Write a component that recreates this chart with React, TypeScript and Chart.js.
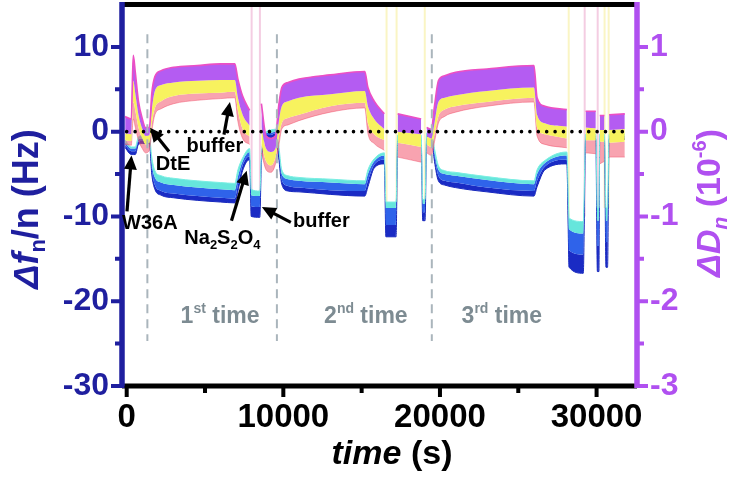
import React, { useEffect, useRef } from 'react';
import { Chart, registerables } from 'chart.js';
Chart.register(...registerables);

const FONT = "'Liberation Sans', Arial, Helvetica, sans-serif";

// time (s)
const T = [-100, 300, 350, 420, 550, 750, 1000, 1200, 1450, 1600, 1800, 2200, 3000, 4500, 6000, 6900, 7100, 7400, 7850, 7950, 8500, 8600, 8900, 9200, 9500, 9700, 9900, 10300, 11000, 13000, 15200, 15400, 15800, 16450, 16550, 17200, 17300, 18800, 18900, 19050, 19150, 19450, 19650, 19900, 20300, 21000, 23000, 26000, 26200, 26700, 28100, 28250, 29150, 29300, 29950, 30050, 30150, 30200, 30500, 30600, 30700, 30800, 31800];

// Δf/n (Hz): overtone envelope (top cyan -> bottom dark blue)
const F_TOP = [-1.0, -1.8, -1.8, -1.8, -1.8, -0.6, -0.5, -0.5, -0.5, -3.0, -4.6, -5.2, -5.5, -5.8, -6.0, -6.1, -4.5, -3.1, -2.0, -6.8, -7.0, -2.8, 0.0, 0.2, 0.3, -1.5, -4.5, -5.2, -5.4, -5.6, -5.8, -4.5, -3.2, -2.5, -8.3, -8.3, -0.4, -0.4, -8.0, -8.0, -0.2, 0.1, -2.0, -4.0, -4.6, -4.8, -5.3, -5.8, -4.5, -3.4, -2.4, -10.2, -10.6, -0.3, -0.3, -9.0, -9.0, -0.3, -0.3, -9.0, -9.0, -0.3, -0.3];
const F_CYAN = [-1.3, -2.0, -2.0, -2.0, -2.0, -0.9, -0.8, -0.8, -0.8, -3.8, -5.4, -6.0, -6.3, -6.6, -6.8, -6.9, -5.3, -3.5, -2.4, -7.5, -7.6, -3.0, -0.2, -0.1, 0.0, -2.0, -5.0, -5.6, -5.8, -6.0, -6.2, -5.0, -3.5, -2.8, -9.0, -9.0, -0.6, -0.6, -8.5, -8.5, -0.4, -0.1, -2.5, -4.5, -5.0, -5.2, -5.7, -6.2, -5.0, -3.7, -2.8, -11.5, -12.0, -0.5, -0.5, -10.5, -10.5, -0.5, -0.5, -10.5, -10.5, -0.5, -0.5];
const F_MID = [-1.6, -2.3, -2.3, -2.3, -2.3, -1.2, -1.1, -1.1, -1.1, -4.5, -6.3, -7.0, -7.3, -7.6, -7.8, -7.9, -6.3, -4.0, -2.9, -8.8, -8.9, -3.3, -0.4, -0.4, -0.2, -2.5, -5.7, -6.4, -6.6, -6.9, -7.0, -5.8, -3.9, -3.3, -11.0, -11.0, -0.8, -0.8, -9.5, -9.5, -0.6, -0.3, -3.0, -5.2, -5.8, -6.0, -6.6, -7.0, -5.8, -4.1, -3.3, -14.0, -14.5, -0.7, -0.7, -13.5, -13.5, -0.7, -0.7, -13.0, -13.0, -0.7, -0.7];
const F_BOT = [-1.9, -2.7, -2.7, -2.7, -2.7, -1.5, -1.4, -1.4, -1.4, -5.0, -6.8, -7.5, -7.8, -8.1, -8.3, -8.4, -7.0, -4.6, -3.3, -10.0, -10.1, -3.6, -0.7, -0.7, -0.5, -3.0, -6.2, -7.0, -7.1, -7.4, -7.6, -6.5, -4.3, -3.8, -12.4, -12.4, -1.0, -1.0, -10.5, -10.5, -0.8, -0.5, -3.5, -5.8, -6.3, -6.6, -7.1, -7.6, -6.5, -4.5, -3.8, -16.0, -16.7, -0.9, -0.9, -16.5, -16.5, -0.9, -0.9, -16.0, -16.0, -0.9, -0.9];

// ΔD (10^-6): overtone envelope (top purple -> bottom red)
const D_TOP = [0.18, 0.15, 0.5, 0.9, 0.7, 0.36, 0.15, 0.05, 0.05, 0.45, 0.65, 0.72, 0.76, 0.78, 0.8, 0.8, 0.62, 0.42, 0.25, null, null, 0.33, -0.05, -0.08, -0.05, 0.3, 0.52, 0.58, 0.62, 0.67, 0.71, 0.52, 0.36, 0.21, null, null, 0.21, 0.15, null, null, 0.05, 0.03, 0.3, 0.6, 0.66, 0.7, 0.74, 0.78, 0.4, 0.3, 0.26, null, null, 0.24, 0.24, null, null, 0.19, 0.19, null, null, 0.2, 0.21];
const D_PURPLE = [-0.02, -0.03, 0.3, 0.6, 0.45, 0.2, 0.03, -0.05, -0.04, 0.25, 0.48, 0.55, 0.58, 0.6, 0.61, 0.61, 0.4, 0.2, 0.07, null, null, 0.05, -0.2, -0.24, -0.2, 0.1, 0.3, 0.36, 0.4, 0.44, 0.48, 0.3, 0.15, 0.03, null, null, 0.0, -0.03, null, null, -0.05, -0.08, 0.1, 0.35, 0.4, 0.43, 0.48, 0.52, 0.2, 0.1, 0.06, null, null, 0.05, 0.04, null, null, 0.02, 0.02, null, null, 0.02, 0.03];
const D_YELLOW = [-0.1, -0.11, 0.1, 0.35, 0.25, 0.05, -0.08, -0.15, -0.13, 0.1, 0.28, 0.36, 0.42, 0.45, 0.46, 0.47, 0.25, 0.03, -0.06, null, null, -0.15, -0.35, -0.4, -0.3, -0.08, 0.1, 0.16, 0.2, 0.3, 0.34, 0.1, -0.03, -0.1, null, null, -0.13, -0.18, null, null, -0.15, -0.18, -0.03, 0.18, 0.26, 0.3, 0.35, 0.4, 0.05, -0.03, -0.08, null, null, -0.1, -0.1, null, null, -0.12, -0.12, null, null, -0.13, -0.12];
const D_BOT = [-0.15, -0.16, 0.0, 0.15, 0.05, -0.1, -0.2, -0.25, -0.22, 0.0, 0.2, 0.27, 0.33, 0.37, 0.39, 0.4, 0.12, -0.08, -0.15, null, null, -0.25, -0.45, -0.48, -0.38, -0.18, 0.03, 0.08, 0.13, 0.23, 0.28, -0.02, -0.14, -0.22, null, null, -0.3, -0.36, null, null, -0.25, -0.28, -0.12, 0.1, 0.18, 0.23, 0.3, 0.35, -0.05, -0.15, -0.19, null, null, -0.25, -0.26, null, null, -0.38, -0.35, null, null, -0.3, -0.3];

// flow-switch spikes (time, lowest Δf value)
const SPIKE_PINK_T = [7975, 8505, 29240, 30070];
const SPIKE_PINK_LOW = [-7, -7, -10, -9];
const SPIKE_YELLOW_T = [16590, 17230, 19030, 28220, 30510, 30770];
const SPIKE_YELLOW_LOW = [-8.3, -8.3, -8, -10, -9, -9];

// injection markers
const STEP_T = [1320, 9590, 19480];
const STEP_Y = [11.5, -24.7];

const X_TICKS = [0, 10000, 20000, 30000];
const X_MINOR = [5000, 15000, 25000];
const Y_TICKS = [-30, -20, -10, 0, 10];
const Y_MINOR = [-25, -15, -5, 5];
const D_TICKS = [-3, -2, -1, 0, 1];
const D_MINOR = [-2.5, -1.5, -0.5, 0.5];

const X_MIN = -300;
const X_MAX = 32580;

const NOTES = [
  { text: 'W36A', x: 1480, y: -10.8 },
  { text: 'DtE', x: 2960, y: -3.9 },
  { text: 'buffer', x: 5630, y: -1.8 },
  { text: 'buffer', x: 12430, y: -10.6 },
];
const ARROWS = [
  [20, -9.4, 306, -2.8],
  [2700, -2.35, 1490, 0.47],
  [6210, -0.35, 6590, 3.5],
  [6690, -10.5, 7660, -4.6],
  [10480, -10.7, 8630, -8.9],
];
const RUNS = [
  { n: '1', sup: 'st', x: 5960 },
  { n: '2', sup: 'nd', x: 15270 },
  { n: '3', sup: 'rd', x: 23950 },
];
const RUN_Y = -22.6;

const BLUE_AX = '#1f1f9f';
const PURPLE_AX = '#b050f0';

const pts = (vals: (number | null)[]) => T.map((t, i) => ({ x: t, y: vals[i] }));

const spikePts = (ts: number[], lows: number[]) => {
  const out: any[] = [];
  ts.forEach((t, i) => {
    out.push({ x: t, y: lows[i] }, { x: t, y: 15 }, { x: t, y: null });
  });
  return out;
};

const stepPts = () => {
  const out: any[] = [];
  STEP_T.forEach((t) => {
    out.push({ x: t, y: STEP_Y[0] }, { x: t, y: STEP_Y[1] }, { x: t, y: null });
  });
  return out;
};

type Part = { t: string; size: number; style: string; dy?: number };

function rich(ctx: CanvasRenderingContext2D, parts: Part[], x: number, y: number, angle = 0, color = '#000') {
  ctx.save();
  ctx.translate(x, y);
  ctx.rotate(angle);
  ctx.fillStyle = color;
  ctx.textAlign = 'left';
  ctx.textBaseline = 'alphabetic';
  const widths = parts.map((p) => {
    ctx.font = `${p.style} ${p.size}px ${FONT}`;
    return ctx.measureText(p.t).width;
  });
  const total = widths.reduce((a, b) => a + b, 0);
  let cx = -total / 2;
  parts.forEach((p, i) => {
    ctx.font = `${p.style} ${p.size}px ${FONT}`;
    ctx.fillText(p.t, cx, p.dy || 0);
    cx += widths[i];
  });
  ctx.restore();
}

function arrow(ctx: CanvasRenderingContext2D, x1: number, y1: number, x2: number, y2: number) {
  const a = Math.atan2(y2 - y1, x2 - x1);
  const hl = 14;
  const hw = 6.5;
  const c = Math.cos(a);
  const s = Math.sin(a);
  ctx.save();
  ctx.strokeStyle = '#000';
  ctx.fillStyle = '#000';
  ctx.lineWidth = 3.2;
  ctx.beginPath();
  ctx.moveTo(x1, y1);
  ctx.lineTo(x2 - hl * 0.8 * c, y2 - hl * 0.8 * s);
  ctx.stroke();
  ctx.beginPath();
  ctx.moveTo(x2, y2);
  ctx.lineTo(x2 - hl * c + hw * s, y2 - hl * s - hw * c);
  ctx.lineTo(x2 - hl * c - hw * s, y2 - hl * s + hw * c);
  ctx.closePath();
  ctx.fill();
  ctx.restore();
}

const decorPlugin = {
  id: 'decor',
  afterDraw(chart: any) {
    const ctx: CanvasRenderingContext2D = chart.ctx;
    const xs = chart.scales.x;
    const ys = chart.scales.y;
    const ds = chart.scales.yD;
    const A = chart.chartArea;
    ctx.save();
    ctx.lineCap = 'butt';
    // frame
    ctx.lineWidth = 5;
    ctx.strokeStyle = '#000';
    ctx.beginPath();
    ctx.moveTo(A.left, A.top);
    ctx.lineTo(A.right, A.top);
    ctx.moveTo(A.left, A.bottom);
    ctx.lineTo(A.right, A.bottom);
    ctx.stroke();
    ctx.lineWidth = 5.5;
    ctx.strokeStyle = BLUE_AX;
    ctx.beginPath();
    ctx.moveTo(A.left, A.top - 2.5);
    ctx.lineTo(A.left, A.bottom + 2);
    ctx.stroke();
    ctx.strokeStyle = PURPLE_AX;
    ctx.beginPath();
    ctx.moveTo(A.right, A.top - 2.5);
    ctx.lineTo(A.right, A.bottom + 2);
    ctx.stroke();
    // ticks
    ctx.lineWidth = 4;
    ctx.strokeStyle = '#000';
    ctx.beginPath();
    X_TICKS.forEach((v) => { const p = xs.getPixelForValue(v); ctx.moveTo(p, A.bottom); ctx.lineTo(p, A.bottom + 11); });
    X_MINOR.forEach((v) => { const p = xs.getPixelForValue(v); ctx.moveTo(p, A.bottom); ctx.lineTo(p, A.bottom + 7); });
    ctx.stroke();
    ctx.strokeStyle = BLUE_AX;
    ctx.beginPath();
    Y_TICKS.forEach((v) => { const p = ys.getPixelForValue(v); ctx.moveTo(A.left, p); ctx.lineTo(A.left - 11, p); });
    Y_MINOR.forEach((v) => { const p = ys.getPixelForValue(v); ctx.moveTo(A.left, p); ctx.lineTo(A.left - 7, p); });
    ctx.stroke();
    ctx.strokeStyle = PURPLE_AX;
    ctx.beginPath();
    D_TICKS.forEach((v) => { const p = ds.getPixelForValue(v); ctx.moveTo(A.right, p); ctx.lineTo(A.right + 11, p); });
    D_MINOR.forEach((v) => { const p = ds.getPixelForValue(v); ctx.moveTo(A.right, p); ctx.lineTo(A.right + 7, p); });
    ctx.stroke();

    // axis titles
    rich(ctx, [
      { t: 'Δf', size: 36, style: 'italic bold' },
      { t: 'n', size: 22, style: 'bold', dy: 7 },
      { t: '/n (Hz)', size: 36, style: 'bold' },
    ], 38, 209, -Math.PI / 2, BLUE_AX);
    rich(ctx, [
      { t: 'ΔD', size: 34, style: 'italic bold' },
      { t: 'n', size: 21, style: 'italic bold', dy: 7 },
      { t: ' (10', size: 34, style: 'bold' },
      { t: '-6', size: 20, style: 'bold', dy: -14 },
      { t: ')', size: 34, style: 'bold' },
    ], 720, 203, -Math.PI / 2, PURPLE_AX);
    rich(ctx, [
      { t: 'time', size: 34, style: 'italic bold' },
      { t: ' (s)', size: 34, style: 'bold' },
    ], 392, 464, 0, '#000');

    // run labels
    RUNS.forEach((r) => {
      rich(ctx, [
        { t: r.n, size: 23, style: 'bold' },
        { t: r.sup, size: 14, style: 'bold', dy: -10 },
        { t: ' time', size: 23, style: 'bold' },
      ], xs.getPixelForValue(r.x), ys.getPixelForValue(RUN_Y), 0, '#7d8b92');
    });

    // annotations
    ARROWS.forEach((a) => arrow(ctx, xs.getPixelForValue(a[0]), ys.getPixelForValue(a[1]), xs.getPixelForValue(a[2]), ys.getPixelForValue(a[3])));
    ctx.fillStyle = '#000';
    ctx.textAlign = 'center';
    ctx.textBaseline = 'middle';
    ctx.font = `bold 20px ${FONT}`;
    NOTES.forEach((n) => ctx.fillText(n.text, xs.getPixelForValue(n.x), ys.getPixelForValue(n.y)));
    rich(ctx, [
      { t: 'Na', size: 20, style: 'bold' },
      { t: '2', size: 13, style: 'bold', dy: 5 },
      { t: 'S', size: 20, style: 'bold' },
      { t: '2', size: 13, style: 'bold', dy: 5 },
      { t: 'O', size: 20, style: 'bold' },
      { t: '4', size: 13, style: 'bold', dy: 5 },
    ], xs.getPixelForValue(6110), ys.getPixelForValue(-13.2), 0, '#000');
    ctx.restore();
  },
};

const band = (vals: (number | null)[], axis: string, bg: string, fillTo: number | false, order: number, border = 'transparent', bw = 0) => ({
  type: 'line',
  data: pts(vals),
  yAxisID: axis,
  borderColor: border,
  borderWidth: bw,
  backgroundColor: bg,
  fill: fillTo,
  pointRadius: 0,
  cubicInterpolationMode: 'monotone',
  spanGaps: false,
  order,
});

const noPad = (s: any) => {
  s.paddingTop = 0;
  s.paddingBottom = 0;
  s.paddingLeft = 0;
  s.paddingRight = 0;
};

export default function App() {
  const ref = useRef<HTMLCanvasElement>(null);
  useEffect(() => {
    document.body.style.margin = '0';
    const tickFont = (size: number) => ({ family: FONT, size, weight: 'bold' as const });
    const datasets: any[] = [
      { type: 'line', data: spikePts(SPIKE_PINK_T, SPIKE_PINK_LOW), yAxisID: 'y', borderColor: '#f4cde2', borderWidth: 2, pointRadius: 0, spanGaps: false, fill: false, order: 30 },
      { type: 'line', data: spikePts(SPIKE_YELLOW_T, SPIKE_YELLOW_LOW), yAxisID: 'y', borderColor: '#faf5c4', borderWidth: 2, pointRadius: 0, spanGaps: false, fill: false, order: 29 },
      band(F_BOT, 'y', 'transparent', false, 28, '#1626b8', 1),
      band(F_MID, 'y', '#1a2bc4', 2, 27),
      band(F_CYAN, 'y', '#2f63ea', 3, 26),
      band(F_TOP, 'y', '#66e6dc', 4, 25, '#7aeee2', 1),
      band(D_BOT, 'yD', 'transparent', false, 24, 'rgba(240,70,100,0.45)', 1),
      band(D_YELLOW, 'yD', 'rgba(242,72,98,0.5)', 6, 23),
      band(D_PURPLE, 'yD', '#f7f25e', 7, 22),
      band(D_TOP, 'yD', '#b45cf2', 8, 21, '#ec4fc4', 1.6),
      { type: 'line', data: stepPts(), yAxisID: 'y', borderColor: '#aab5bc', borderWidth: 2, borderDash: [9, 6], pointRadius: 0, spanGaps: false, fill: false, order: 20 },
      { type: 'line', data: [{ x: 0, y: 0 }, { x: 32150, y: 0 }], yAxisID: 'y', borderColor: '#000', borderWidth: 3.6, borderDash: [0, 8.4], borderCapStyle: 'round', pointRadius: 0, fill: false, order: 19 },
    ];
    const chart = new Chart(ref.current as HTMLCanvasElement, {
      type: 'line',
      data: { datasets },
      options: {
        animation: false,
        responsive: false,
        maintainAspectRatio: false,
        devicePixelRatio: 1,
        layout: { padding: { top: 4.5, left: 0, right: 0, bottom: 0 } },
        plugins: { legend: { display: false }, tooltip: { enabled: false } },
        scales: {
          x: {
            type: 'linear',
            min: X_MIN,
            max: X_MAX,
            grid: { display: false, drawTicks: false },
            border: { display: false },
            ticks: { color: '#000', font: tickFont(33), padding: 12, maxRotation: 0, autoSkip: false, callback: (v: any) => String(v) },
            afterBuildTicks: (s: any) => { s.ticks = X_TICKS.map((v) => ({ value: v })); },
            afterFit: (s: any) => { s.height = 91; noPad(s); },
          },
          y: {
            type: 'linear',
            position: 'left',
            min: -30,
            max: 15,
            grid: { display: false, drawTicks: false },
            border: { display: false },
            ticks: { color: BLUE_AX, font: tickFont(32), padding: 13, callback: (v: any) => String(v) },
            afterBuildTicks: (s: any) => { s.ticks = Y_TICKS.map((v) => ({ value: v })); },
            afterFit: (s: any) => { s.width = 122; noPad(s); },
          },
          yD: {
            type: 'linear',
            position: 'right',
            min: -3,
            max: 1.5,
            grid: { display: false, drawTicks: false },
            border: { display: false },
            ticks: { color: PURPLE_AX, font: tickFont(32), padding: 13, callback: (v: any) => String(v) },
            afterBuildTicks: (s: any) => { s.ticks = D_TICKS.map((v) => ({ value: v })); },
            afterFit: (s: any) => { s.width = 95; noPad(s); },
          },
        },
      },
      plugins: [decorPlugin],
    } as any);
    return () => chart.destroy();
  }, []);
  return (
    <div style={{ width: 732, height: 477 }}>
      <canvas ref={ref} width={732} height={477} style={{ display: 'block' }} />
    </div>
  );
}
